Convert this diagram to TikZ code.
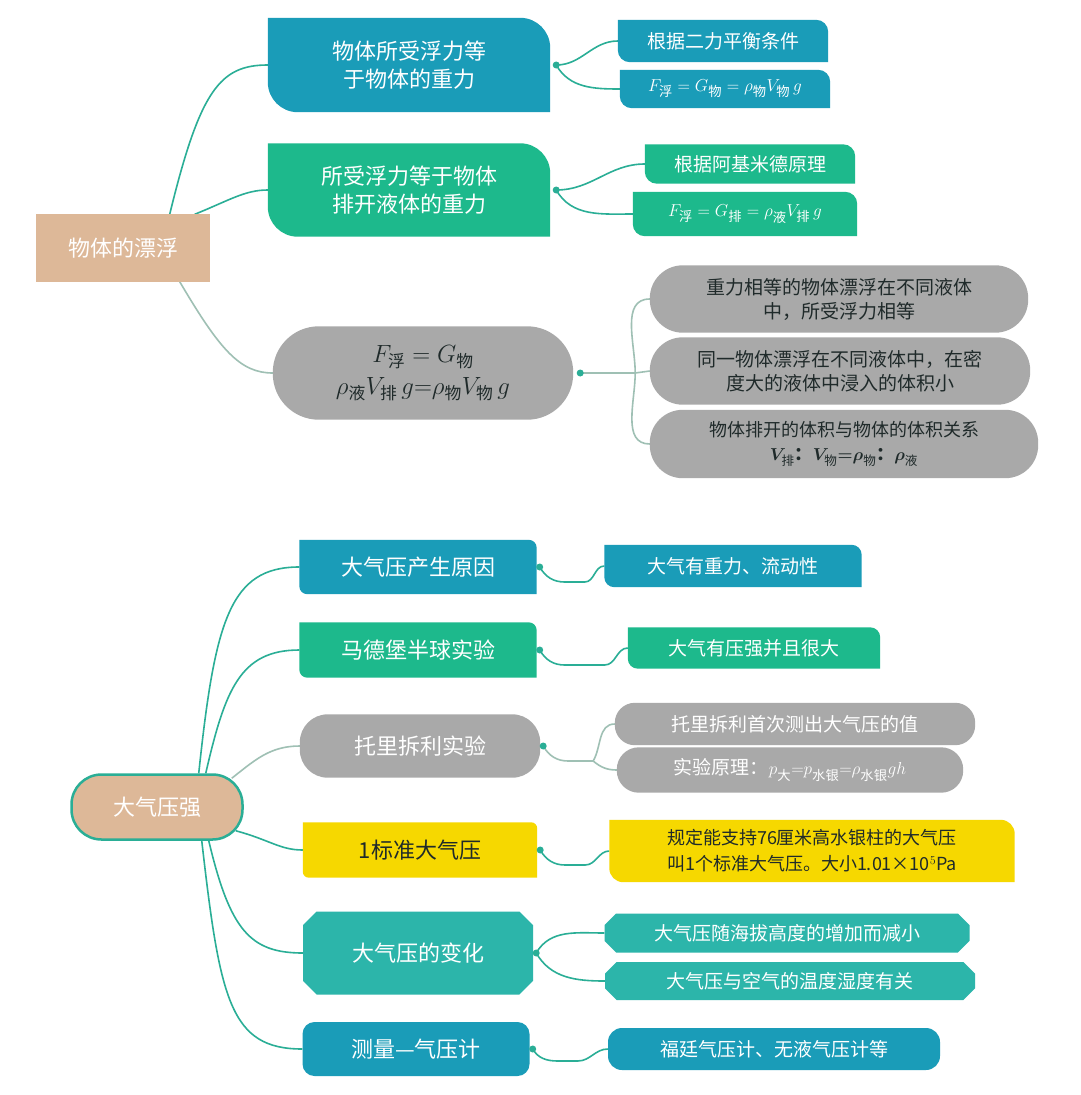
\documentclass[tikz,border=0pt]{standalone}
\usepackage{amsmath}
\usepackage{fontspec}
\setmainfont{Noto Sans CJK SC}
\usetikzlibrary{backgrounds,shapes.misc,calc}
\definecolor{cblue}{HTML}{1A9CB8}
\definecolor{cgreen}{HTML}{1DB98C}
\definecolor{cgray}{HTML}{A9A9A9}
\definecolor{ctan}{HTML}{DDB898}
\definecolor{cyel}{HTML}{F6D800}
\definecolor{cteal}{HTML}{2CB5AA}
\definecolor{cline}{HTML}{2AAE96}
\definecolor{cgline}{HTML}{9FC0B4}
\definecolor{cdark}{HTML}{1F2A2A}
\tikzset{
 bx/.style={minimum width=#1, inner sep=0pt, align=center, text=white},
 conn/.style={draw=cline, line width=1.6pt},
 gconn/.style={draw=cgline, line width=1.6pt},
 big/.style={font=\fontsize{22}{28}\selectfont},
 mid/.style={font=\fontsize{19}{24}\selectfont},
 dotm/.style={circle, fill=#1, inner sep=0pt, minimum size=7pt},
}
\newcommand\tlbr[3]{\fill[#2] (#1.west) -- (#1.north west) [rounded corners=#3]-- (#1.north east) [sharp corners]-- (#1.south east) [rounded corners=#3]-- (#1.south west) [sharp corners]-- cycle;}
\begin{document}
\begin{tikzpicture}[x=1pt,y=-1pt]
\useasboundingbox (0,0) rectangle (1080,1095);
% ---------- top part
\node[bx=173pt, minimum height=67pt, big, text=white] (r1) at (123,248) {物体的漂浮};
\node[bx=282pt, minimum height=94pt, big] (a1) at (409,65) {物体所受浮力等\\于物体的重力};
\node[bx=210pt, minimum height=42pt, mid] (a1a) at (723,41) {根据二力平衡条件};
\node[bx=210pt, minimum height=38pt, mid] (a1b) at (725,89) {$F_{\text{浮}}=G_{\text{物}}=\rho_{\text{物}}V_{\text{物}}\,g$};
\node[bx=282pt, minimum height=93pt, big] (a2) at (409,190) {所受浮力等于物体\\排开液体的重力};
\node[bx=210pt, minimum height=39pt, mid] (a2a) at (750,164) {根据阿基米德原理};
\node[bx=224pt, minimum height=44pt, mid] (a2b) at (745,214) {$F_{\text{浮}}=G_{\text{排}}=\rho_{\text{液}}V_{\text{排}}\,g$};
\node[bx=300pt, minimum height=93pt, font=\fontsize{24}{32}\selectfont, text=cdark] (a3) at (423,373) {$F_{\text{浮}}=G_{\text{物}}$\\$\rho_{\text{液}}V_{\text{排}}\,g{=}\rho_{\text{物}}V_{\text{物}}\,g$};
\node[bx=378pt, minimum height=67pt, mid, text=cdark] (a3a) at (839,299) {重力相等的物体漂浮在不同液体\\中，所受浮力相等};
\node[bx=380pt, minimum height=67pt, mid, text=cdark] (a3b) at (840,371) {同一物体漂浮在不同液体中，在密\\度大的液体中浸入的体积小};
\node[bx=388pt, minimum height=68pt, font=\fontsize{18}{24}\selectfont, text=cdark] (a3c) at (844,444) {物体排开的体积与物体的体积关系\\$\boldsymbol{V_{\text{排}}}$\textbf{：}$\boldsymbol{V_{\text{物}}{=}\rho_{\text{物}}}$\textbf{：}$\boldsymbol{\rho_{\text{液}}}$};
% ---------- bottom part
\node[bx=171pt, minimum height=65pt, big, rounded corners=30pt, draw=cline, line width=2.5pt, fill=ctan] (r2) at (157,807) {大气压强};
\node[bx=237pt, minimum height=54pt, big] (b1) at (418,567) {大气压产生原因};
\node[bx=257pt, minimum height=42pt, mid] (b1a) at (733,566) {大气有重力、流动性};
\node[bx=237pt, minimum height=55pt, big] (b2) at (418,650) {马德堡半球实验};
\node[bx=252pt, minimum height=41pt, mid] (b2a) at (754,648) {大气有压强并且很大};
\node[bx=240pt, minimum height=63pt, big] (b3) at (420,746) {托里拆利实验};
\node[bx=360pt, minimum height=42pt, mid] (b3a) at (795,724) {托里拆利首次测出大气压的值};
\node[bx=346pt, minimum height=45pt, mid] (b3b) at (790,770) {实验原理：$p_{\text{大}}{=}p_{\text{水银}}{=}\rho_{\text{水银}}gh$};
\node[bx=234pt, minimum height=55pt, big, text=cdark] (b4) at (420,850) {1标准大气压};
\node[bx=405pt, minimum height=62pt, font=\fontsize{18}{26}\selectfont, text=cdark] (b4a) at (812,851) {规定能支持76厘米高水银柱的大气压\\叫1个标准大气压。大小1.01×10$^5$Pa};
\node[bx=230pt, minimum height=83pt, big, chamfered rectangle, chamfered rectangle xsep=10pt, fill=cteal] (b5) at (418,953) {大气压的变化};
\node[bx=365pt, minimum height=39pt, mid, chamfered rectangle, chamfered rectangle xsep=8pt, fill=cteal] (b5a) at (787,933) {大气压随海拔高度的增加而减小};
\node[bx=370pt, minimum height=38pt, mid, chamfered rectangle, chamfered rectangle xsep=8pt, fill=cteal] (b5b) at (790,981) {大气压与空气的温度湿度有关};
\node[bx=227pt, minimum height=54pt, big, rounded corners=12pt, fill=cblue] (b6) at (416,1049) {测量—气压计};
\node[bx=332pt, minimum height=42pt, mid, rounded corners=14pt, fill=cblue] (b6a) at (774,1049) {福廷气压计、无液气压计等};
% junction dots
\coordinate (d1) at ($(a1.east)+(6,0)$);
\coordinate (d2) at ($(a2.east)+(6,0)$);
\coordinate (d3) at ($(a3.east)+(7,0)$);
\coordinate (e1) at ($(b1.east)+(3,0)$);
\coordinate (e2) at ($(b2.east)+(3,0)$);
\coordinate (e3) at ($(b3.east)+(3,0)$);
\coordinate (e4) at ($(b4.east)+(3,0)$);
\coordinate (e5) at ($(b5.east)+(3,0)$);
\coordinate (e6) at ($(b6.east)+(3,0)$);
\begin{scope}[on background layer]
\fill[white] (0,0) rectangle (1080,1095);
% root connectors
\draw[conn] ($(r1.north east)+(-40,0)$) .. controls (200,90) and (220,65) .. (a1.west);
\draw[conn] ($(r1.north east)+(-15,0)$) .. controls (230,200) and (245,190) .. (a2.west);
\draw[gconn] ($(r1.south east)+(-30,0)$) .. controls (220,350) and (240,373) .. (a3.west);
\draw[conn] ($(r2.north east)+(-45,0)$) .. controls (215,620) and (230,567) .. (b1.west);
\draw[conn] ($(r2.north east)+(-38,0)$) .. controls (225,690) and (240,650) .. (b2.west);
\draw[gconn] ($(r2.north east)+(-12,5)$) .. controls (255,760) and (270,746) .. (b3.west);
\draw[conn] ($(r2.south east)+(-8,-10)$) .. controls (270,840) and (280,850) .. (b4.west);
\draw[conn] ($(r2.south east)+(-35,0)$) .. controls (230,930) and (250,953) .. (b5.west);
\draw[conn] ($(r2.south east)+(-42,0)$) .. controls (220,1000) and (230,1049) .. (b6.west);
% leaf connectors
\draw[conn] (d1) to[out=0,in=180] (a1a.west);
\draw[conn] (d1) to[out=-60,in=180] (a1b.west);
\draw[conn] (d2) to[out=0,in=180] (a2a.west);
\draw[conn] (d2) to[out=-60,in=180] (a2b.west);
\draw[gconn] (d3) -- ++(55,0) coordinate (j3);
\draw[gconn] (j3) to[out=90,in=180] (a3a.west);
\draw[gconn] (j3) -- (a3b.west);
\draw[gconn] (j3) to[out=-90,in=180] (a3c.west);
\draw[conn] (e1) to[out=-60,in=180] ++(25,15) -- ++(20,0) to[out=0,in=180] (b1a.west);
\draw[conn] (e2) to[out=-60,in=180] ++(25,15) -- ++(40,0) to[out=0,in=180] (b2a.west);
\draw[gconn] (e3) to[out=-60,in=180] ++(25,15) -- ++(25,0) coordinate (j4);
\draw[gconn] (j4) to[out=60,in=180] (b3a.west);
\draw[gconn] (j4) to[out=-40,in=180] (b3b.west);
\draw[conn] (e4) to[out=-60,in=180] ++(25,15) -- ++(20,0) to[out=0,in=180] (b4a.west);
\draw[conn] (e5) to[out=60,in=180] (b5a.west);
\draw[conn] (e5) to[out=-60,in=180] (b5b.west);
\draw[conn] (e6) to[out=-60,in=180] ++(25,12) -- ++(20,0) to[out=0,in=180] (b6a.west);
% shapes
\fill[ctan] (r1.south west) rectangle (r1.north east);
\tlbr{a1}{cblue}{30pt}
\tlbr{a1a}{cblue}{12pt}
\tlbr{a1b}{cblue}{12pt}
\tlbr{a2}{cgreen}{30pt}
\tlbr{a2a}{cgreen}{12pt}
\tlbr{a2b}{cgreen}{12pt}
\fill[cgray, rounded corners=46pt] (a3.south west) rectangle (a3.north east);
\fill[cgray, rounded corners=33pt] (a3a.south west) rectangle (a3a.north east);
\fill[cgray, rounded corners=33pt] (a3b.south west) rectangle (a3b.north east);
\fill[cgray, rounded corners=33pt] (a3c.south west) rectangle (a3c.north east);
\tlbr{b1}{cblue}{8pt}
\tlbr{b1a}{cblue}{10pt}
\tlbr{b2}{cgreen}{8pt}
\tlbr{b2a}{cgreen}{10pt}
\fill[cgray, rounded corners=28pt] (b3.south west) rectangle (b3.north east);
\fill[cgray, rounded corners=20pt] (b3a.south west) rectangle (b3a.north east);
\fill[cgray, rounded corners=22pt] (b3b.south west) rectangle (b3b.north east);
\tlbr{b4}{cyel}{6pt}
\tlbr{b4a}{cyel}{14pt}
\end{scope}
\foreach \d in {d1,d2,d3,e1,e2,e3,e4,e5,e6}{\node[dotm=cline] at (\d) {};}
\end{tikzpicture}
\end{document}
